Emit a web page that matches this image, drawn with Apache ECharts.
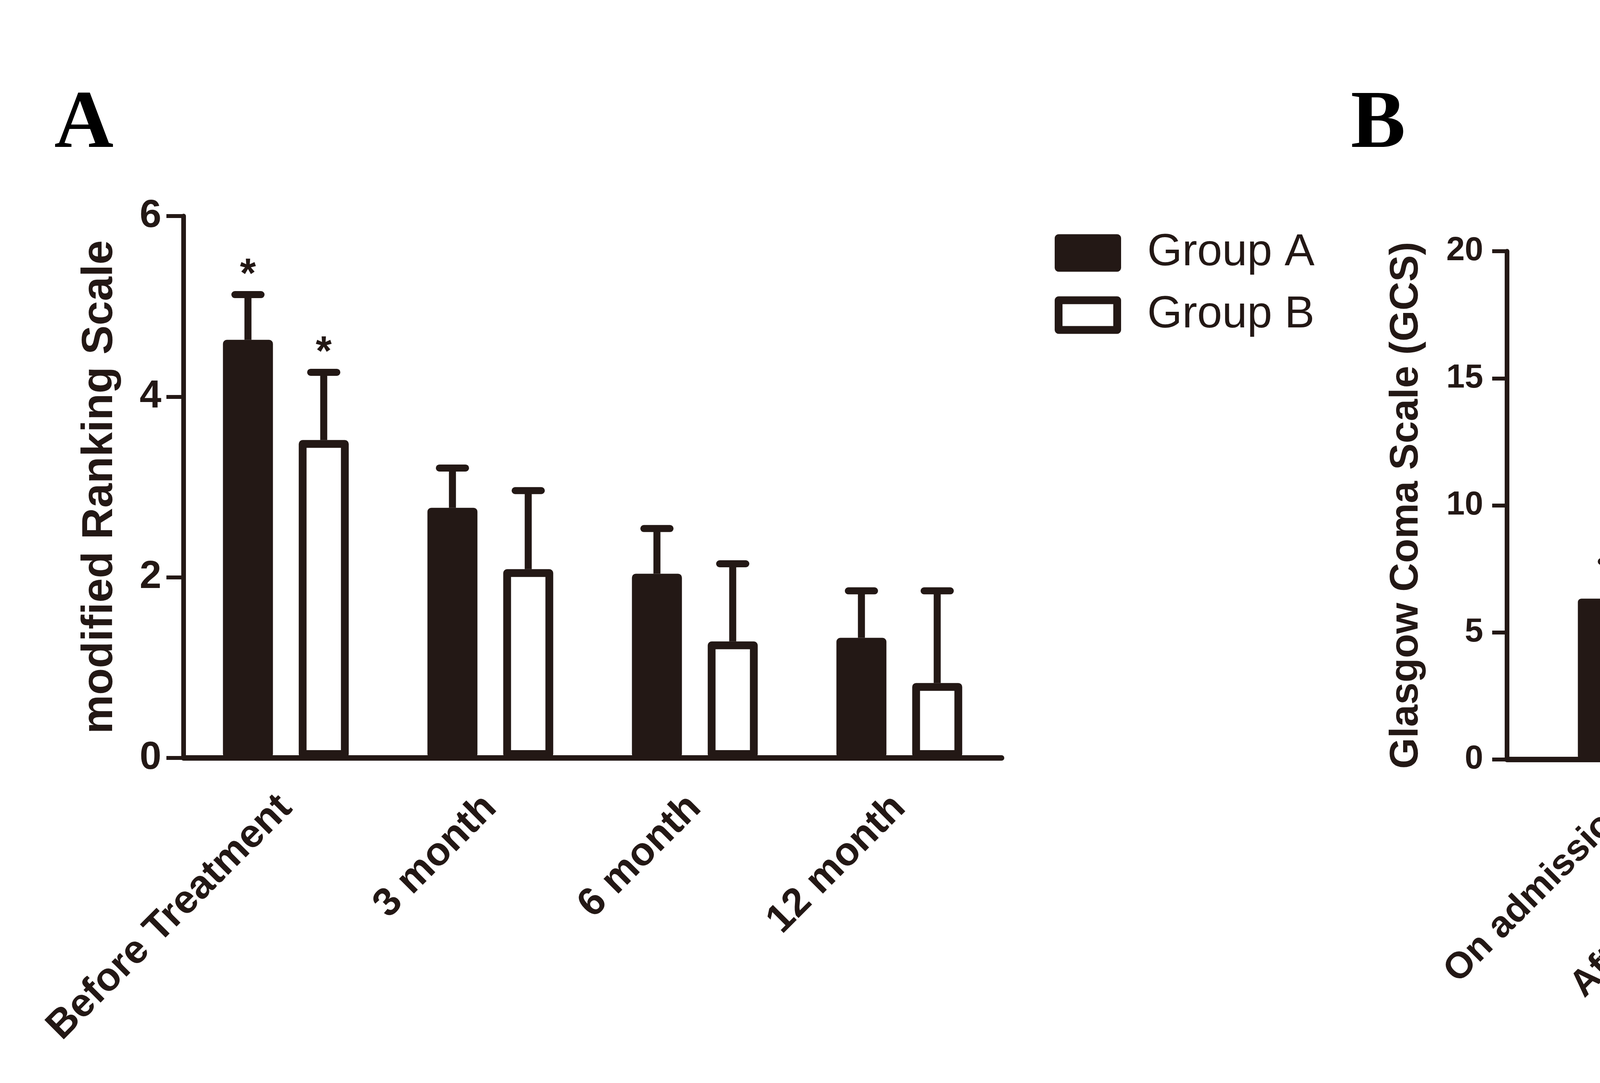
<!DOCTYPE html>
<html><head><meta charset="utf-8">
<script src="https://cdn.jsdelivr.net/npm/echarts@6/dist/echarts.min.js"></script>
<style>html,body{margin:0;padding:0;background:#fff;overflow:hidden}#c{width:6538px;height:2772px}</style>
</head><body><div id="c"></div>
<script>
// ---------- data ----------
const seriesNames = ['Group A', 'Group B'];

// Panel A: modified Ranking Scale
const categoriesA = ['Before Treatment', '3 month', '6 month', '12 month'];
const mrsGroupA = [4.63, 2.77, 2.04, 1.33];
const mrsGroupAErr = [0.50, 0.44, 0.50, 0.52];
const mrsGroupB = [3.52, 2.09, 1.29, 0.83];
const mrsGroupBErr = [0.75, 0.87, 0.86, 1.02];
const mrsSigA = [1, 0, 0, 0];
const mrsSigB = [1, 0, 0, 0];
const yTicksA = [0, 2, 4, 6];

// Panel B: Glasgow Coma Scale
const categoriesB = ['On admission', 'After treatment', 'On admission', 'After treatment'];
const gcsGroupA = [6.33, 12.37];
const gcsGroupAErr = [1.46, 1.14];
const gcsGroupB = [12.44, 13.04];
const gcsGroupBErr = [1.49, 2.33];
const gcsSigA = [0, 1];
const gcsSigB = [0, 0];
const yTicksB = [0, 5, 10, 15, 20];

// ---------- layout / style ----------
const INK = '#231815';
const FONT = 'Liberation Sans';
const slotsB = [2, 5, 10, 13];
const slotCountB = 16;
const xDataB = Array.from({length: slotCountB}, () => '');
slotsB.forEach((s, i) => { xDataB[s] = categoriesB[i]; });
const showLabelB = (idx) => slotsB.indexOf(idx) >= 0;

function slotArray(values, slotIdx) {
  const arr = Array.from({length: slotCountB}, () => null);
  values.forEach((v, i) => { arr[slotIdx[i]] = v; });
  return arr;
}

function errRender(offset, capLen, lw, starSize, starGap) {
  return function (params, api) {
    const x = api.value(0), m = api.value(1), e = api.value(2), sig = api.value(3);
    const base = api.coord([x, m]);
    const top = api.coord([x, m + e]);
    const cx = base[0] + offset;
    const children = [
      {type: 'line', shape: {x1: cx, y1: base[1], x2: cx, y2: top[1]},
       style: {stroke: INK, lineWidth: lw}},
      {type: 'line', shape: {x1: cx - capLen / 2, y1: top[1], x2: cx + capLen / 2, y2: top[1]},
       style: {stroke: INK, lineWidth: lw, lineCap: 'round'}}
    ];
    if (sig) {
      children.push({type: 'text', x: cx, y: top[1] - starGap,
        style: {text: '*', fontSize: starSize, fontWeight: 'bold', fontFamily: FONT,
                fill: INK, align: 'center', verticalAlign: 'middle'}});
    }
    return {type: 'group', children: children};
  };
}

const errDataA1 = mrsGroupA.map((v, i) => [i, v, mrsGroupAErr[i], mrsSigA[i]]);
const errDataA2 = mrsGroupB.map((v, i) => [i, v, mrsGroupBErr[i], mrsSigB[i]]);
const errDataB1 = gcsGroupA.map((v, i) => [slotsB[i], v, gcsGroupAErr[i], gcsSigA[i]]);
const errDataB2 = gcsGroupB.map((v, i) => [slotsB[i + 2], v, gcsGroupBErr[i], gcsSigB[i]]);

const barWA = 128, gapA = 66, offA = (barWA + gapA) / 2;

const option = {
  animation: false,
  backgroundColor: '#fff',
  title: [
    {text: 'A', left: 139, top: 217, padding: 0,
     textStyle: {fontFamily: 'Liberation Serif', fontWeight: 'bold', fontSize: 210, lineHeight: 210, color: '#000'}},
    {text: 'B', left: 3458, top: 217, padding: 0,
     textStyle: {fontFamily: 'Liberation Serif', fontWeight: 'bold', fontSize: 210, lineHeight: 210, color: '#000'}}
  ],
  legend: [
    {orient: 'vertical', left: 2700, top: 590, padding: 0, itemGap: 44,
     itemWidth: 150, itemHeight: 76, selectedMode: false,
     textStyle: {fontFamily: FONT, fontSize: 115, lineHeight: 115, color: INK, padding: [0, 0, 0, 72]},
     data: [
       {name: seriesNames[0], icon: 'rect', itemStyle: {color: INK, borderColor: INK, borderWidth: 20, borderJoin: 'round'}},
       {name: seriesNames[1], icon: 'rect', itemStyle: {color: '#fff', borderColor: INK, borderWidth: 20, borderJoin: 'round'}}
     ]},
    {orient: 'vertical', left: 5895, top: 682, padding: 0, itemGap: 44,
     itemWidth: 136, itemHeight: 72, selectedMode: false,
     textStyle: {fontFamily: FONT, fontSize: 104, lineHeight: 104, color: INK, padding: [0, 0, 0, 70]},
     data: [
       {name: seriesNames[0], icon: 'rect', itemStyle: {color: INK, borderColor: INK, borderWidth: 18, borderJoin: 'round'}},
       {name: seriesNames[1], icon: 'rect', itemStyle: {color: '#fff', borderColor: INK, borderWidth: 18, borderJoin: 'round'}}
     ]}
  ],
  grid: [
    {left: 470, top: 553, width: 2094, height: 1387, containLabel: false, outerBoundsMode: 'none'},
    {left: 3858, top: 643, width: 1922, height: 1301, containLabel: false, outerBoundsMode: 'none'}
  ],
  xAxis: [
    {type: 'category', gridIndex: 0, data: categoriesA,
     axisLine: {lineStyle: {color: INK, width: 14}},
     axisTick: {alignWithLabel: true, length: 40, lineStyle: {color: INK, width: 10}},
     axisLabel: {interval: 0, rotate: 45, margin: 112, fontFamily: FONT, fontWeight: 'bold', fontSize: 102, color: INK},
     splitLine: {show: false}},
    {type: 'category', gridIndex: 1, data: xDataB,
     axisLine: {lineStyle: {color: INK, width: 14}},
     axisTick: {alignWithLabel: true, length: 40, interval: showLabelB, lineStyle: {color: INK, width: 10}},
     axisLabel: {interval: showLabelB, rotate: 45, margin: 112, fontFamily: FONT, fontWeight: 'bold', fontSize: 95, color: INK},
     splitLine: {show: false}}
  ],
  yAxis: [
    {type: 'value', gridIndex: 0, min: yTicksA[0], max: yTicksA[yTicksA.length - 1], interval: yTicksA[1] - yTicksA[0],
     name: 'modified Ranking Scale', nameLocation: 'middle', nameGap: 158,
     nameTextStyle: {fontFamily: FONT, fontWeight: 'bold', fontSize: 112, color: INK},
     axisLine: {show: true, lineStyle: {color: INK, width: 12}},
     axisTick: {show: true, length: 44, lineStyle: {color: INK, width: 10}},
     axisLabel: {margin: 57, fontFamily: FONT, fontWeight: 'bold', fontSize: 100, color: INK},
     splitLine: {show: false}},
    {type: 'value', gridIndex: 1, min: yTicksB[0], max: yTicksB[yTicksB.length - 1], interval: yTicksB[1] - yTicksB[0],
     name: 'Glasgow Coma Scale (GCS)', nameLocation: 'middle', nameGap: 206,
     nameTextStyle: {fontFamily: FONT, fontWeight: 'bold', fontSize: 102, color: INK},
     axisLine: {show: true, lineStyle: {color: INK, width: 12}},
     axisTick: {show: true, length: 38, lineStyle: {color: INK, width: 10}},
     axisLabel: {margin: 61, fontFamily: FONT, fontWeight: 'bold', fontSize: 85, color: INK},
     splitLine: {show: false}}
  ],
  series: [
    {name: seriesNames[0], type: 'bar', xAxisIndex: 0, yAxisIndex: 0, data: mrsGroupA,
     barWidth: barWA, barGap: (gapA / barWA * 100).toFixed(1) + '%',
     itemStyle: {color: INK, borderColor: INK, borderWidth: 20, borderJoin: 'round'}, z: 3},
    {name: seriesNames[1], type: 'bar', xAxisIndex: 0, yAxisIndex: 0, data: mrsGroupB,
     barWidth: barWA, barGap: (gapA / barWA * 100).toFixed(1) + '%',
     itemStyle: {color: '#fff', borderColor: INK, borderWidth: 20, borderJoin: 'round'}, z: 3},
    {type: 'custom', xAxisIndex: 0, yAxisIndex: 0, data: errDataA1, z: 2,
     renderItem: errRender(-offA, 67, 18, 105, 48)},
    {type: 'custom', xAxisIndex: 0, yAxisIndex: 0, data: errDataA2, z: 2,
     renderItem: errRender(offA, 67, 18, 105, 48)},

    {name: seriesNames[0], type: 'bar', xAxisIndex: 1, yAxisIndex: 1, data: slotArray(gcsGroupA, slotsB.slice(0, 2)),
     barWidth: 238, barGap: '-100%',
     itemStyle: {color: INK, borderColor: INK, borderWidth: 18, borderJoin: 'round'}, z: 3},
    {name: seriesNames[1], type: 'bar', xAxisIndex: 1, yAxisIndex: 1, data: slotArray(gcsGroupB, slotsB.slice(2, 4)),
     barWidth: 238, barGap: '-100%',
     itemStyle: {color: '#fff', borderColor: INK, borderWidth: 18, borderJoin: 'round'}, z: 3},
    {type: 'custom', xAxisIndex: 1, yAxisIndex: 1, data: errDataB1, z: 2,
     renderItem: errRender(0, 118, 18, 150, 60)},
    {type: 'custom', xAxisIndex: 1, yAxisIndex: 1, data: errDataB2, z: 2,
     renderItem: errRender(0, 118, 18, 150, 60)}
  ]
};

const chart = echarts.init(document.getElementById('c'), null, {renderer: 'canvas'});
chart.setOption(option);
</script>
</body></html>
